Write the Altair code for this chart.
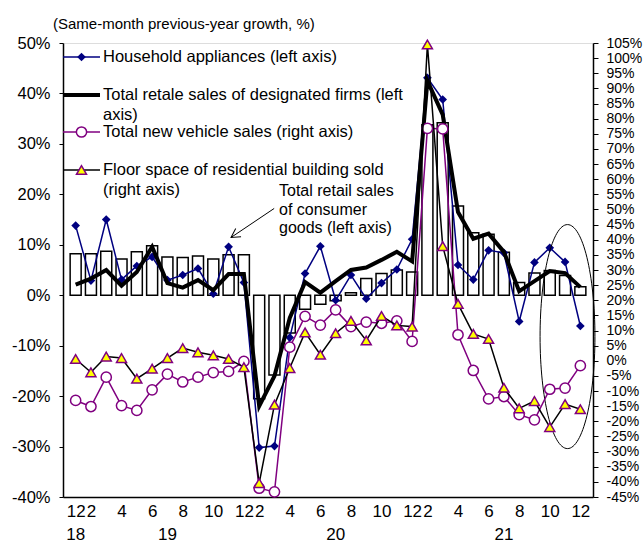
import altair as alt
import pandas as pd

# Month index 0..33: Dec 2018, then Feb..Dec of 2019, 2020 and 2021 (Jan is merged into Feb)
month_labels = ["12", "2", "3", "4", "5", "6", "7", "8", "9", "10", "11", "12",
                "2", "3", "4", "5", "6", "7", "8", "9", "10", "11", "12",
                "2", "3", "4", "5", "6", "7", "8", "9", "10", "11", "12"]
tick_positions = [0, 1, 3, 5, 7, 9, 11, 12, 14, 16, 18, 20, 22, 23, 25, 27, 29, 31, 33]
year_labels = ["18", "19", "20", "21"]
year_positions = [0, 6, 17, 28]

# Left axis series (%)
retail_sales = [8.2, 8.2, 8.7, 7.2, 8.6, 9.8, 7.6, 7.5, 7.8, 7.2, 8.0, 8.0,
                -20.5, -15.8, -7.5, -2.8, -1.8, -1.1, 0.5, 3.3, 4.3, 5.0, 4.6,
                33.8, 34.2, 17.7, 12.4, 12.1, 8.5, 2.5, 4.4, 4.9, 3.9, 1.7]
household_appliances = [13.8, 2.9, 15.0, 3.1, 5.8, 7.6, 3.0, 4.0, 5.3, 0.3, 9.6, 2.5,
                        -30.2, -29.9, -8.4, 4.3, 9.7, -1.0, 4.0, -0.7, 2.4, 5.1, 11.1,
                        43.1, 38.8, 6.0, 3.1, 8.9, 8.4, -5.2, 6.5, 9.4, 6.6, -6.1]
designated_firms = [2.1, 3.3, 5.0, 1.9, 4.6, 9.6, 2.4, 1.5, 3.0, 1.0, 4.2, 4.2,
                    -22.0, -16.0, -4.5, 2.6, 0.5, 2.8, 5.0, 5.5, 7.0, 8.6, 6.7,
                    42.5, 35.8, 16.5, 11.2, 12.2, 8.6, 0.8, 2.8, 4.8, 4.4, 1.6]
# Right axis series (%)
new_vehicle_sales = [-13.1, -15.1, -5.4, -14.8, -16.4, -9.6, -4.4, -7.0, -5.4, -3.9, -3.5, -0.2,
                     -42.1, -43.3, 4.5, 14.7, 11.8, 16.8, 11.3, 12.8, 12.4, 13.2, 6.4,
                     76.8, 76.6, 8.6, -3.2, -12.6, -11.8, -17.8, -19.5, -9.4, -9.0, -1.6]
residential_floor_space = [0.6, -3.8, 1.4, 0.9, -5.9, -2.6, 0.9, 4.2, 2.8, 1.8, 0.6, -2.1,
                           -40.4, -14.5, -2.4, 9.4, 2.0, 9.1, 13.2, 6.7, 14.8, 11.7, 11.3,
                           104.5, 37.9, 18.8, 8.9, 7.2, -8.9, -15.7, -13.3, -21.9, -14.3, -16.0]

df = pd.DataFrame({
    "idx": list(range(len(month_labels))),
    "month": month_labels,
    "retail": retail_sales,
    "appliances": household_appliances,
    "designated": designated_firms,
    "vehicles": new_vehicle_sales,
    "floor": residential_floor_space,
})
years_df = pd.DataFrame({"pos": year_positions, "year": year_labels})

FONT = "Liberation Sans"
NAVY = "#000080"
PURPLE = "#800080"
YELLOW = "#FFFF00"
W, H = 530, 454

label_array = "[" + ",".join(f"'{m}'" for m in month_labels) + "]"
x_scale = alt.Scale(domain=[-0.5, len(month_labels) - 0.5], nice=False, zero=False)
x_axis = alt.Axis(values=tick_positions, tickCount=100, labelExpr=f"{label_array}[datum.value]",
                  title=None, ticks=False, grid=False, labelFontSize=17, labelPadding=6,
                  labelFont=FONT, labelColor="black", domainColor="black", domainWidth=1.5,
                  labelFlush=False, labelOverlap=False)
X = alt.X("idx:Q", scale=x_scale, axis=x_axis)

left_scale = alt.Scale(domain=[-40, 50], nice=False, zero=False)
left_axis = alt.Axis(orient="left", values=list(range(-40, 51, 10)), tickCount=100,
                     labelExpr="datum.value + '%'", title=None, grid=False, tickSize=4,
                     labelPadding=9, labelFontSize=16.5, labelFont=FONT, labelColor="black",
                     domainColor="black", tickColor="black", domainWidth=1.5,
                     labelFlush=False, labelOverlap=False)
right_scale = alt.Scale(domain=[-45, 105], nice=False, zero=False)
right_axis = alt.Axis(orient="right", values=list(range(-45, 106, 5)), tickCount=100,
                      labelExpr="datum.value + '%'", title=None, grid=False, tickSize=5,
                      labelPadding=8, labelFontSize=14, labelFont=FONT, labelColor="black",
                      domainColor="black", tickColor="black", domainWidth=1.5,
                      labelFlush=False, labelOverlap=False)


def yl(field):
    return alt.Y(f"{field}:Q", scale=left_scale, axis=left_axis)


def yr(field):
    return alt.Y(f"{field}:Q", scale=right_scale, axis=right_axis)


base = alt.Chart(df)

bars = base.mark_bar(size=11, fill="white", stroke="black", strokeWidth=1.5).encode(x=X, y=yl("retail"))
appliances = base.mark_line(color=NAVY, strokeWidth=1.5, point=alt.OverlayMarkDef(
    shape="diamond", size=75, filled=True, color=NAVY)).encode(x=X, y=yl("appliances"))
designated = base.mark_line(color="black", strokeWidth=4).encode(x=X, y=yl("designated"))

vehicles = base.mark_line(color=PURPLE, strokeWidth=1.5, point=alt.OverlayMarkDef(
    shape="circle", size=105, filled=True, fill="white", stroke=PURPLE, strokeWidth=1.5)
).encode(x=X, y=yr("vehicles"))
floor = base.mark_line(color="black", strokeWidth=1.5, point=alt.OverlayMarkDef(
    shape="triangle-up", size=100, filled=True, fill=YELLOW, stroke=PURPLE, strokeWidth=1.5)
).encode(x=X, y=yr("floor"))

# Year row under the month labels
years = alt.Chart(years_df).mark_text(fontSize=17, font=FONT, baseline="middle", align="center",
                                      color="black").encode(
    x=alt.X("pos:Q", scale=x_scale, axis=x_axis), y=alt.value(H + 38), text="year:N")

# Unit title above the left axis
blank = alt.Chart(pd.DataFrame({"k": [0]}))
unit_title = blank.mark_text(text="(Same-month previous-year growth, %)", fontSize=15, font=FONT,
                             align="left", baseline="middle", color="black").encode(
    x=alt.value(-10), y=alt.value(-19))

# Callout for the bar series
callout_lines = ["Total retail sales", "of consumer", "goods (left axis)"]
callout = [blank.mark_text(text=t, fontSize=16, font=FONT, align="left", baseline="middle",
                           color="black").encode(x=alt.value(216), y=alt.value(148 + 18.5 * i))
           for i, t in enumerate(callout_lines)]
arrow_line = blank.mark_rule(color="black", strokeWidth=1).encode(
    x=alt.datum(12.98), y=alt.datum(17.2), x2=alt.datum(10.16), y2=alt.datum(11.45))
arrow_head = blank.mark_point(shape="M -1 -0.55 L 0 0 L -1 0.55", size=310, angle=146.6,
                              filled=False, color="black", strokeWidth=1, opacity=1).encode(
    x=alt.datum(10.16), y=alt.datum(11.45))

# Ellipse highlighting the latest months
ellipse_path = ("M 0 -1 C 0.1353 -1 0.245 -0.5523 0.245 0 C 0.245 0.5523 0.1353 1 0 1 "
                "C -0.1353 1 -0.245 0.5523 -0.245 0 C -0.245 -0.5523 -0.1353 -1 0 -1 Z")
ellipse = blank.mark_point(shape=ellipse_path, size=224 ** 2, filled=False, color="black",
                           strokeWidth=1, opacity=1).encode(x=alt.datum(32.16), y=alt.datum(-8.2))

# Legend drawn in the upper-left corner of the plot
legend_layers = []


def legend_item(y, lines, line_color, line_width, point_def=None):
    legend_layers.append(blank.mark_rule(color=line_color, strokeWidth=line_width).encode(
        x=alt.value(0), x2=alt.value(37), y=alt.value(y)))
    if point_def is not None:
        legend_layers.append(blank.mark_point(**point_def).encode(x=alt.value(18.5), y=alt.value(y)))
    for i, t in enumerate(lines):
        legend_layers.append(blank.mark_text(text=t, fontSize=16.5, font=FONT, align="left",
                                             baseline="middle", color="black").encode(
            x=alt.value(40), y=alt.value(y + 19.5 * i)))


legend_item(14, ["Household appliances (left axis)"], NAVY, 1.5,
            dict(shape="diamond", size=75, filled=True, color=NAVY, opacity=1))
legend_item(52, ["Total retale sales of designated firms (left", "axis)"], "black", 4)
legend_item(89, ["Total new vehicle sales (right axis)"], PURPLE, 1.5,
            dict(shape="circle", size=105, filled=True, fill="white", stroke=PURPLE,
                 strokeWidth=1.5, opacity=1))
legend_item(127, ["Floor space of residential building sold", "(right axis)"], "black", 1.5,
            dict(shape="triangle-up", size=100, filled=True, fill=YELLOW, stroke=PURPLE,
                 strokeWidth=1.5, opacity=1))

left_group = alt.layer(bars, appliances, designated, years, unit_title, arrow_line, arrow_head,
                       ellipse, *callout, *legend_layers)
right_group = alt.layer(vehicles, floor)

chart = alt.layer(left_group, right_group).resolve_scale(y="independent").properties(
    width=W, height=H,
    autosize=alt.AutoSizeParams(type="none"),
    padding={"left": 63, "top": 43, "right": 51, "bottom": 46},
    background="white",
).configure_view(stroke="black", strokeWidth=1).configure(font=FONT).configure_axis(
    labelOverlap=False
).configure_axisX(labelOverlap=False, labelFlush=False)

chart.save("out.html", embed_options={"renderer": "svg", "actions": False})
